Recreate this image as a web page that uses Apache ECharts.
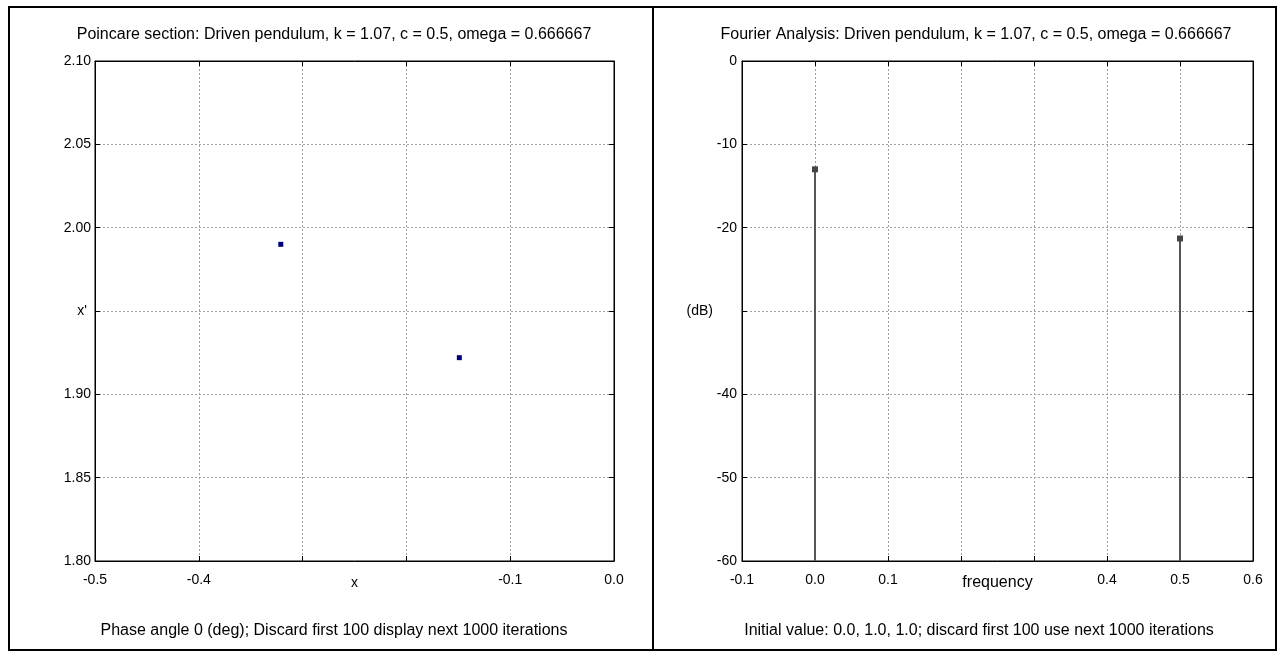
<!DOCTYPE html>
<html>
<head>
<meta charset="utf-8">
<script src="https://cdn.jsdelivr.net/npm/echarts@6/dist/echarts.min.js"></script>
<style>html,body{margin:0;padding:0;background:#fff}#c{width:1279px;height:652px}</style>
</head>
<body>
<div id="c"></div>
<script>
// Data
const poincareTitle = 'Poincare section: Driven pendulum, k = 1.07, c = 0.5, omega = 0.666667';
const poincareNote = 'Phase angle 0 (deg); Discard first 100 display next 1000 iterations';
const fourierTitle = 'Fourier Analysis: Driven pendulum, k = 1.07, c = 0.5, omega = 0.666667';
const fourierNote = 'Initial value: 0.0, 1.0, 1.0; discard first 100 use next 1000 iterations';
const poincareX = [-0.321, -0.149];
const poincareY = [1.990, 1.922];
const freq = [0.0, 0.5];
const dB = [-13.0, -21.3];
const leftXTicks = [-0.5, -0.4, -0.3, -0.2, -0.1, 0.0];
const leftXLabels = ['-0.5', '-0.4', '', '', '-0.1', '0.0'];
const leftYLabels = {'2.10':'2.10','2.05':'2.05','2.00':'2.00','1.95':'','1.90':'1.90','1.85':'1.85','1.80':'1.80'};
const rightXLabels = {'-0.1':'-0.1','0.0':'0.0','0.1':'0.1','0.2':'','0.3':'','0.4':'0.4','0.5':'0.5','0.6':'0.6'};
const rightYLabels = {'0':'0','-10':'-10','-20':'-20','-30':'','-40':'-40','-50':'-50','-60':'-60'};

const FONT = 'Liberation Sans';
const FS = 14;   // tick labels / axis names
const TS = 16;   // titles / notes
const chart = echarts.init(document.getElementById('c'), null, {renderer:'canvas'});

const split = {show:true, lineStyle:{color:'#a0a0a0', type:[2,2], width:1}};
const tick = {show:true, inside:true, length:5, lineStyle:{color:'#000'}};
const line = {show:true, onZero:false, lineStyle:{color:'#000'}};
const lab = (fn, m) => ({color:'#000', fontFamily:FONT, fontSize:FS, formatter:fn, margin:m});
const nts = {fontFamily:FONT, fontSize:FS, color:'#000'};

function fx(v, d){ return (Math.abs(v) < 1e-9 ? 0 : v).toFixed(d); }

const option = {
  animation:false,
  backgroundColor:'#fff',
  grid: [
    {left:95, top:61, width:519, height:500, show:true, borderColor:'#000', borderWidth:1},
    {left:742, top:61, width:511, height:500, show:true, borderColor:'#000', borderWidth:1}
  ],
  title:[
    {text:poincareTitle, left:329, top:22, textAlign:'center', textStyle:{fontFamily:FONT, fontSize:TS, fontWeight:'normal', color:'#000'}},
    {text:poincareNote, left:329, top:618, textAlign:'center', textStyle:{fontFamily:FONT, fontSize:TS, fontWeight:'normal', color:'#000'}},
    {text:fourierTitle, left:971, top:22, textAlign:'center', textStyle:{fontFamily:FONT, fontSize:TS, fontWeight:'normal', color:'#000'}},
    {text:fourierNote, left:974, top:618, textAlign:'center', textStyle:{fontFamily:FONT, fontSize:TS, fontWeight:'normal', color:'#000'}}
  ],
  xAxis:[
    {type:'value', gridIndex:0, min:-0.5, max:0, interval:0.1, position:'bottom',
     name:'x', nameLocation:'middle', nameGap:15, nameMoveOverlap:false, nameTextStyle:nts,
     axisLine:line, axisTick:tick, splitLine:split,
     axisLabel:lab(v => { const i = leftXTicks.findIndex(t => Math.abs(t - v) < 1e-6); return i >= 0 ? leftXLabels[i] : ''; }, 12)},
    {type:'value', gridIndex:0, min:-0.5, max:0, interval:0.1, position:'top',
     axisLine:line, axisTick:tick, splitLine:{show:false}, axisLabel:{show:false}},
    {type:'value', gridIndex:1, min:-0.1, max:0.6, interval:0.1, position:'bottom',
     name:'frequency', nameLocation:'middle', nameGap:14, nameMoveOverlap:false,
     nameTextStyle:{fontFamily:FONT, fontSize:16, color:'#000'},
     axisLine:line, axisTick:tick, splitLine:split,
     axisLabel:lab(v => { const k = fx(v,1); return (k in rightXLabels) ? rightXLabels[k] : k; }, 12)},
    {type:'value', gridIndex:1, min:-0.1, max:0.6, interval:0.1, position:'top',
     axisLine:line, axisTick:tick, splitLine:{show:false}, axisLabel:{show:false}}
  ],
  yAxis:[
    {type:'value', gridIndex:0, min:1.8, max:2.1, interval:0.05, position:'left',
     name:"x'", nameLocation:'middle', nameGap:8, nameRotate:0, nameMoveOverlap:false, nameTextStyle:nts,
     axisLine:line, axisTick:tick, splitLine:split,
     axisLabel:lab(v => { const k = fx(v,2); return (k in leftYLabels) ? leftYLabels[k] : k; }, 4)},
    {type:'value', gridIndex:0, min:1.8, max:2.1, interval:0.05, position:'right',
     axisLine:line, axisTick:tick, splitLine:{show:false}, axisLabel:{show:false}},
    {type:'value', gridIndex:1, min:-60, max:0, interval:10, position:'left',
     name:'(dB)', nameLocation:'middle', nameGap:29, nameRotate:0, nameMoveOverlap:false, nameTextStyle:nts,
     axisLine:line, axisTick:tick, splitLine:split,
     axisLabel:lab(v => { const k = String(Math.round(v)); return (k in rightYLabels) ? rightYLabels[k] : k; }, 5)},
    {type:'value', gridIndex:1, min:-60, max:0, interval:10, position:'right',
     axisLine:line, axisTick:tick, splitLine:{show:false}, axisLabel:{show:false}}
  ],
  series:[
    {type:'scatter', xAxisIndex:0, yAxisIndex:0, symbol:'rect', symbolSize:5,
     itemStyle:{color:'#000080', opacity:1}, data: poincareX.map((x,i) => [x, poincareY[i]])},
    {type:'custom', xAxisIndex:2, yAxisIndex:2,
     data: freq.map((f,i) => [f, dB[i]]),
     renderItem: function(params, api){
       const top = api.coord([api.value(0), api.value(1)]);
       const base = api.coord([api.value(0), -60]);
       return {type:'group', children:[
         {type:'line', shape:{x1:top[0], y1:top[1], x2:base[0], y2:base[1]}, style:{stroke:'#555', lineWidth:2}},
         {type:'rect', shape:{x:top[0]-3, y:top[1]-3, width:6, height:6}, style:{fill:'#444'}}
       ]};
     }}
  ],
  graphic:[
    {type:'rect', shape:{x:9, y:7, width:644, height:643}, style:{fill:'none', stroke:'#000', lineWidth:2}, z:100},
    {type:'rect', shape:{x:653, y:7, width:623, height:643}, style:{fill:'none', stroke:'#000', lineWidth:2}, z:100}
  ]
};
chart.setOption(option);
</script>
</body>
</html>
